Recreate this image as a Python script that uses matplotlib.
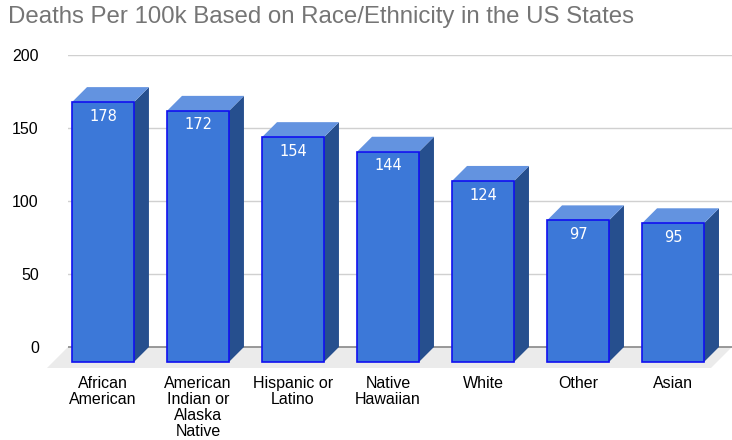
import matplotlib
matplotlib.use("Agg")
import matplotlib.pyplot as plt
from matplotlib.patches import Polygon

# data
groups = ["African\nAmerican", "American\nIndian or\nAlaska\nNative", "Hispanic or\nLatino",
          "Native\nHawaiian", "White", "Other", "Asian"]
deaths = [178, 172, 154, 144, 124, 97, 95]
yticks = [0, 50, 100, 150, 200]

# fake 3d settings (category units / value units)
HW = 0.326   # half width of front face
DX = 0.158   # depth shift in x
DY = 10.3    # depth shift in y
YMIN = -14.4
XMIN, XMAX = -0.368, 6.621

fig = plt.figure(figsize=(7.32, 4.40), dpi=100)
ax = fig.add_axes([68/732, 72/440, 664/732, 313/440])
ax.set_xlim(XMIN, XMAX)
ax.set_ylim(YMIN, 200)

# floor
fdx = (XMAX - XMIN) * 21 / 664
floor = Polygon([(XMIN - fdx, YMIN), (XMAX - fdx, YMIN), (XMAX, 0), (XMIN, 0)],
                closed=True, facecolor="#ebebeb", edgecolor="none", clip_on=False, zorder=0)
ax.add_patch(floor)

# gridlines on back wall
for t in yticks:
    ax.axhline(t, color="#888888" if t == 0 else "#d0d0d0", lw=1.2 if t == 0 else 1, zorder=1)

for i, v in enumerate(deaths):
    front = [(i-HW, -DY), (i+HW, -DY), (i+HW, v-DY), (i-HW, v-DY)]
    side = [(i+HW, -DY), (i+HW+DX, 0), (i+HW+DX, v), (i+HW, v-DY)]
    top = [(i-HW, v-DY), (i+HW, v-DY), (i+HW+DX, v), (i-HW+DX, v)]
    ax.add_patch(Polygon(side, closed=True, facecolor="#264f8e", edgecolor="none", zorder=3))
    ax.add_patch(Polygon(top, closed=True, facecolor="#6393e0", edgecolor="none", zorder=3))
    ax.add_patch(Polygon(front, closed=True, facecolor="#3c78d8", edgecolor="#1010f0",
                         lw=1.2, zorder=4))
    ax.text(i, v - DY - 9.6, str(v), ha="center", va="center", color="white",
            fontsize=10.5, family="DejaVu Sans", zorder=5)

for s in ax.spines.values():
    s.set_visible(False)
ax.set_yticks(yticks)
ax.set_yticklabels([str(t) for t in yticks], family="Liberation Sans", fontsize=11.5)
ax.set_xticks(range(len(groups)))
ax.set_xticklabels(groups, family="Liberation Sans", fontsize=11.5, linespacing=1.08, va="top")
ax.tick_params(axis="y", length=0, pad=21)
ax.tick_params(axis="x", length=0, pad=6)

fig.text(8/732, 1 - 6/440, "Deaths Per 100k Based on Race/Ethnicity in the US States",
         ha="left", va="top", fontsize=17.3, color="#757575", family="Liberation Sans")

fig.savefig("out.png", dpi=100)
